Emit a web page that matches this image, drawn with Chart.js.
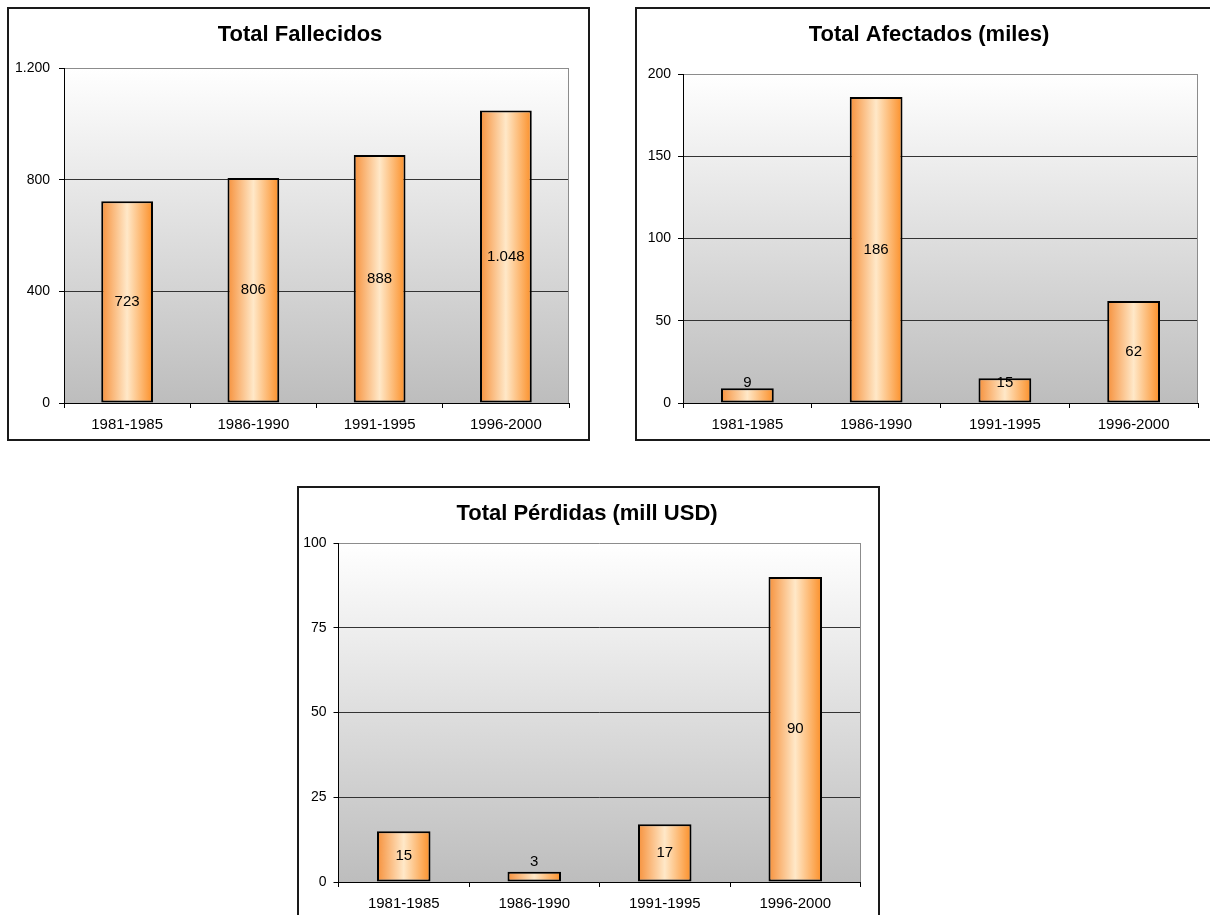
<!DOCTYPE html>
<html>
<head>
<meta charset="utf-8">
<script src="https://cdn.jsdelivr.net/npm/chart.js@4.4.1/dist/chart.umd.min.js"></script>
<style>
  html, body { margin: 0; padding: 0; background: #fff; overflow: hidden; width: 1210px; height: 915px; }
  .box { position: absolute; border: 2px solid #1a1a1a; box-sizing: border-box; background: #fff; }
  .box canvas { position: absolute; left: 1px; top: 1px; }
</style>
</head>
<body>
<div class="box" style="left:7px; top:7px; width:583px; height:434px;"><canvas id="c1" width="580" height="428"></canvas></div>
<div class="box" style="left:635px; top:7px; width:590px; height:434px;"><canvas id="c2" width="582" height="428"></canvas></div>
<div class="box" style="left:297px; top:486px; width:583px; height:434px;"><canvas id="c3" width="574" height="426"></canvas></div>
<script>
// Periods shared by the three charts
const periods = ['1981-1985', '1986-1990', '1991-1995', '1996-2000'];

// Series values
const fallecidos = [723, 806, 888, 1048];   // deaths
const afectados = [9, 186, 15, 62];         // affected people, thousands
const perdidas = [15, 3, 17, 90];           // losses, million USD

// Value axis tick marks
const fallecidosTicks = [0, 400, 800, 1200];
const afectadosTicks = [0, 50, 100, 150, 200];
const perdidasTicks = [0, 25, 50, 75, 100];

const FONT = "'Liberation Sans', Arial, sans-serif";
Chart.defaults.font.family = FONT;
Chart.defaults.color = '#000';

const BAR_SHARE = 0.41;

// thousands separator as a dot: 1048 -> 1.048
function dotted(v) {
  return String(Math.round(v)).replace(/\B(?=(\d{3})+(?!\d))/g, '.');
}

// vertical white-to-grey fill of the plot area plus its grey right edge
const plotBackground = {
  id: 'plotBackground',
  beforeDraw(chart) {
    const a = chart.chartArea;
    const c = chart.ctx;
    const g = c.createLinearGradient(0, a.top, 0, a.bottom);
    g.addColorStop(0, '#ffffff');
    g.addColorStop(1, '#bdbdbd');
    c.save();
    c.fillStyle = g;
    c.fillRect(a.left, a.top, a.right - a.left, a.bottom - a.top);
    c.restore();
  },
  beforeDatasetsDraw(chart) {
    const a = chart.chartArea;
    const c = chart.ctx;
    c.save();
    c.strokeStyle = '#8c8c8c';
    c.lineWidth = 1;
    c.beginPath();
    c.moveTo(Math.round(a.right) - 0.5, a.top);
    c.lineTo(Math.round(a.right) - 0.5, a.bottom);
    c.stroke();
    c.restore();
  }
};

// value written inside each bar, kept clear of the category axis
const barValues = {
  id: 'barValues',
  afterDatasetsDraw(chart, args, opts) {
    const c = chart.ctx;
    const meta = chart.getDatasetMeta(0);
    const data = chart.data.datasets[0].data;
    c.save();
    c.font = '15px ' + FONT;
    c.fillStyle = '#000';
    c.textAlign = 'center';
    c.textBaseline = 'middle';
    meta.data.forEach((el, i) => {
      const mid = (el.y + el.base) / 2;
      const y = Math.min(mid, el.base - 20);
      c.fillText(opts.format(data[i]), el.x, y);
    });
    c.restore();
  }
};

function barFill(ctx) {
  const chart = ctx.chart;
  const xs = chart.scales && chart.scales.x;
  if (!xs || ctx.type !== 'data' || !isFinite(xs.width)) return '#f9a04a';
  const cx = xs.getPixelForValue(ctx.dataIndex);
  const w = xs.width / chart.data.labels.length * BAR_SHARE;
  const g = chart.ctx.createLinearGradient(cx - w / 2, 0, cx + w / 2, 0);
  g.addColorStop(0, '#f6913c');
  g.addColorStop(0.5, '#ffe8c8');
  g.addColorStop(1, '#fb8f28');
  return g;
}

function makeChart(id, title, values, ticks, geo) {
  const yMax = ticks[ticks.length - 1];
  const step = ticks[1] - ticks[0];
  const fmt = geo.dots ? dotted : (v => String(v));
  return new Chart(document.getElementById(id), {
    type: 'bar',
    data: {
      labels: periods,
      datasets: [{
        data: values,
        backgroundColor: barFill,
        borderColor: '#000',
        borderWidth: 2,
        borderSkipped: false,
        barPercentage: 1,
        categoryPercentage: BAR_SHARE
      }]
    },
    options: {
      responsive: false,
      animation: false,
      events: [],
      layout: { padding: 0 },
      plugins: {
        legend: { display: false },
        tooltip: { enabled: false },
        title: {
          display: true,
          text: title,
          color: '#000',
          font: { family: FONT, size: 22, weight: 'bold', lineHeight: 1.2 },
          padding: { top: geo.titleTop, bottom: geo.titleBottom }
        },
        barValues: { format: fmt }
      },
      scales: {
        x: {
          type: 'category',
          offset: true,
          grid: { offset: true, drawOnChartArea: false, drawTicks: true, tickLength: 5, color: '#000', tickColor: '#000' },
          border: { display: true, color: '#000', width: 1 },
          ticks: { color: '#000', font: { size: 15 }, padding: 8, autoSkip: false, maxRotation: 0 },
          afterFit: s => { s.height = geo.xHeight; }
        },
        y: {
          position: 'left',
          min: 0,
          max: yMax,
          ticks: { stepSize: step, color: '#000', font: { size: 14 }, padding: geo.yPad, callback: v => fmt(v) },
          grid: {
            color: c => (c.tick && c.tick.value === yMax) ? '#8c8c8c' : '#333333',
            lineWidth: 1,
            drawTicks: true,
            tickLength: 5,
            tickColor: '#000'
          },
          border: { display: true, color: '#000', width: 1 },
          afterFit: s => { s.width = geo.yWidth; }
        },
        // empty margin on the right so the title stays centred on the frame
        margin: {
          type: 'linear',
          position: 'right',
          display: true,
          ticks: { display: false },
          grid: { display: false },
          border: { display: false },
          afterFit: s => { s.width = geo.rightGap; }
        }
      }
    },
    plugins: [plotBackground, barValues]
  });
}

makeChart('c1', 'Total Fallecidos', fallecidos, fallecidosTicks,
  { yWidth: 54, rightGap: 21, xHeight: 35, titleTop: 11.8, titleBottom: 19.8, yPad: 9, dots: true });
makeChart('c2', 'Total Afectados (miles)', afectados, afectadosTicks,
  { yWidth: 45, rightGap: 22, xHeight: 35, titleTop: 11.8, titleBottom: 25.8, yPad: 7, dots: false });
makeChart('c3', 'Total Pérdidas (mill USD)', perdidas, perdidasTicks,
  { yWidth: 38.5, rightGap: 13.5, xHeight: 33, titleTop: 11.8, titleBottom: 15.8, yPad: 7, dots: false });
</script>
</body>
</html>
